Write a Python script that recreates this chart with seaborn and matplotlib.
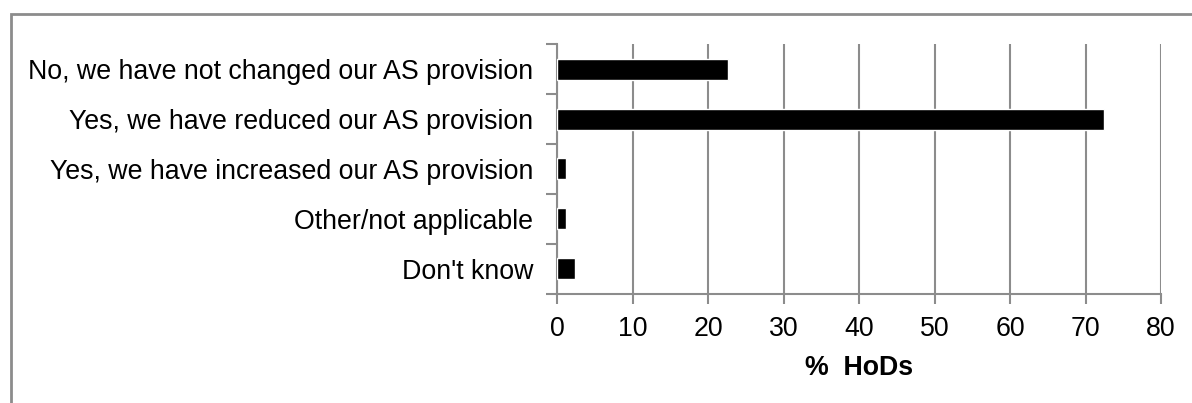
import matplotlib
matplotlib.use("Agg")
import matplotlib.pyplot as plt
import seaborn as sns
import pandas as pd
from matplotlib.patches import Rectangle

categories = [
    "No, we have not changed our AS provision",
    "Yes, we have reduced our AS provision",
    "Yes, we have increased our AS provision",
    "Other/not applicable",
    "Don't know",
]
percent_hods = [22.7, 72.4, 1.2, 1.2, 2.4]
x_ticks = [0, 10, 20, 30, 40, 50, 60, 70, 80]

df = pd.DataFrame({"category": categories, "pct": percent_hods})

sns.set_theme(style="white")
plt.rcParams["font.family"] = ["Liberation Sans", "DejaVu Sans"]

grey = "#8c8c8c"
fs = 19.3
fig = plt.figure(figsize=(11.92, 4.03), dpi=100)
ax = fig.add_axes([0.4673, 0.2705, 0.5067, 0.6203])

sns.barplot(data=df, x="pct", y="category", order=categories, color="black",
            width=0.42, saturation=1, ax=ax, zorder=3)

ax.set_xlim(0, 80)
ax.set_xticks(x_ticks)
ax.set_xticklabels([str(t) for t in x_ticks], fontsize=fs, color="black")
ax.set_ylim(4.5, -0.5)
ax.set_yticks([i - 0.5 for i in range(len(categories) + 1)], minor=False)
ax.set_yticklabels([])
ax.set_yticks(range(len(categories)), minor=True)
ax.set_yticklabels(categories, minor=True, fontsize=fs, color="black")
ax.tick_params(axis="y", which="minor", length=0, pad=17)
ax.tick_params(axis="y", which="major", length=8, width=1.5, color=grey, left=True)
ax.tick_params(axis="x", length=7, width=1.5, color=grey, bottom=True, pad=9)

ax.xaxis.grid(True, color=grey, linewidth=1.5, zorder=0)
ax.yaxis.grid(False)
for side in ["top", "right"]:
    ax.spines[side].set_visible(False)
for side in ["left", "bottom"]:
    ax.spines[side].set_color(grey)
    ax.spines[side].set_linewidth(1.5)

ax.set_ylabel("")
ax.set_xlabel("%  HoDs", fontsize=fs, fontweight="bold", color="black", labelpad=9)

# outer chart frame
fig.patches.append(Rectangle((11 / 1192, -0.1), 1.2, 1 - 14 / 403 + 0.1,
                             transform=fig.transFigure, fill=False,
                             edgecolor=grey, linewidth=2))

fig.savefig("out.png", dpi=100)
